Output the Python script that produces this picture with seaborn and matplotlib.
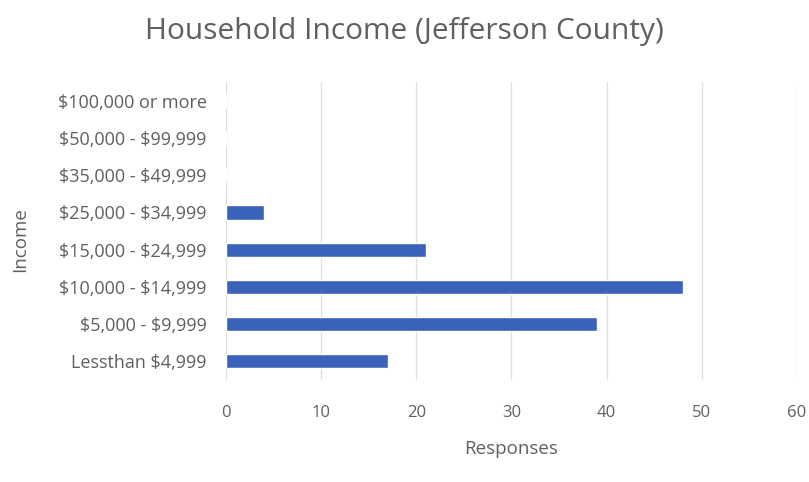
import matplotlib
matplotlib.use("Agg")
import matplotlib.pyplot as plt
import seaborn as sns
import pandas as pd

# Income brackets, listed top to bottom
income = [
    "$100,000 or more",
    "$50,000 - $99,999",
    "$35,000 - $49,999",
    "$25,000 - $34,999",
    "$15,000 - $24,999",
    "$10,000 - $14,999",
    "$5,000 - $9,999",
    "Lessthan $4,999",
]
responses = [0, 0, 0, 4, 21, 48, 39, 17]
x_ticks = [0, 10, 20, 30, 40, 50, 60]

df = pd.DataFrame({"Income": income, "Responses": responses})

sns.set_theme(style="white")
plt.rcParams["font.family"] = ["Open Sans", "DejaVu Sans"]
plt.rcParams["text.parse_math"] = False

text_color = "#5f5f5f"
fig = plt.figure(figsize=(8.09, 4.82), dpi=100)
ax = fig.add_axes([0.2794, 0.2124, 0.7056, 0.6166])

sns.barplot(data=df, x="Responses", y="Income", order=income, orient="h",
            color="#3b62bb", saturation=1, width=0.38, ax=ax, zorder=3)

ax.set_xlim(0, 60)
ax.set_xticks(x_ticks)
ax.set_xticklabels([str(t) for t in x_ticks])
ax.grid(axis="x", color="#dedede", linewidth=0.9, zorder=0)
ax.grid(axis="y", visible=False)
for s in ax.spines.values():
    s.set_visible(False)
ax.tick_params(axis="x", length=0, pad=18, labelsize=12, labelcolor=text_color)
ax.tick_params(axis="y", length=0, pad=14, labelsize=13, labelcolor=text_color)

ax.set_xlabel("Responses", fontsize=13.5, color=text_color, labelpad=14)
ax.set_ylabel("Income", fontsize=13.5, color=text_color)
ax.yaxis.set_label_coords(-0.345, 0.47)
fig.suptitle("Household Income (Jefferson County)", fontsize=21.5,
             color=text_color, x=0.5, y=0.965)

fig.savefig("out.png", dpi=100, facecolor="white")
